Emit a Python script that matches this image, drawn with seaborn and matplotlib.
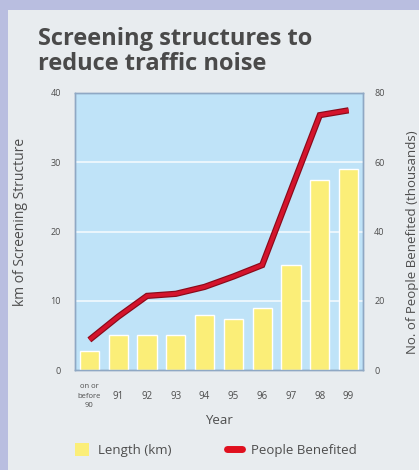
import seaborn as sns
import pandas as pd
import numpy as np
import matplotlib.pyplot as plt
from matplotlib.patches import Rectangle
from matplotlib.lines import Line2D

years = ['on or\nbefore\n90', '91', '92', '93', '94', '95', '96', '97', '98', '99']
length_km = [2.7, 5.0, 5.0, 5.0, 7.9, 7.3, 8.9, 15.1, 27.4, 29.0]
people_k = [8.7, 15.4, 21.4, 22.0, 24.0, 27.0, 30.3, 52.0, 73.6, 75.0]

df = pd.DataFrame({'year': years, 'length': length_km, 'people': people_k})

sns.set_style('white')
plt.rcParams['font.family'] = ['Open Sans', 'DejaVu Sans']
txt = '#4d4d4d'

fig = plt.figure(figsize=(4.19, 4.70), dpi=100)
fig.patch.set_facecolor('#b9bee0')
# light inner panel
fig.patches.append(Rectangle((8 / 419, 0), 1, 1 - 10 / 470, transform=fig.transFigure,
                             facecolor='#e8ecef', edgecolor='none', zorder=-10))

ax = fig.add_axes([75 / 419, 1 - 370 / 470, 288 / 419, 277 / 470])
ax.set_facecolor('#bfe3f8')

#bars for length
sns.barplot(x='year', y='length', data=df, ax=ax, color='#fbee78', width=0.66,
            saturation=1, zorder=3)
ax.set_ylim(0, 40)
ax.set_yticks([0, 10, 20, 30, 40])
for v in [10, 20, 30]:
    ax.axhline(v, color='white', lw=1.2, alpha=0.8, zorder=1)

#line for people on the right axis
ax2 = ax.twinx()
sns.lineplot(x=np.arange(len(years)), y=df['people'], ax=ax2, color='#8a0a1a', lw=4.5,
             solid_joinstyle='miter', solid_capstyle='butt')
sns.lineplot(x=np.arange(len(years)), y=df['people'], ax=ax2, color='#d4142c', lw=2.8,
             solid_joinstyle='miter', solid_capstyle='butt')
ax2.set_ylim(0, 80)
ax2.set_yticks([0, 20, 40, 60, 80])
ax2.set_xlim(-0.5, len(years) - 0.5)
ax.set_xlim(-0.5, len(years) - 0.5)

for a in (ax, ax2):
    for s in a.spines.values():
        s.set_color('#8fa8c4')
        s.set_linewidth(1)

ax.tick_params(axis='y', length=0, labelsize=6.5, colors=txt, pad=10)
ax2.tick_params(axis='y', length=0, labelsize=6.5, colors=txt, pad=8)
ax.set_xticks(np.arange(len(years)))
ax.set_xticklabels(years)
ax.tick_params(axis='x', length=0, labelsize=7, colors=txt, pad=19)
ax.set_xticks(np.arange(len(years)) + 0.5, minor=True)
ax.tick_params(axis='x', which='minor', length=3, color='#8fa8c4')
for lab in ax.get_xticklabels():
    lab.set_verticalalignment('center')
ax.get_xticklabels()[0].set_fontsize(5.5)
ax.get_xticklabels()[0].set_linespacing(1.5)

ax.set_xlabel('Year', fontsize=9.5, color=txt)
ax.xaxis.set_label_coords(0.5, -0.158)
ax.set_ylabel('km of Screening Structure', fontsize=10, color=txt)
ax2.set_ylabel('No. of People Benefited (thousands)', fontsize=9.5, color=txt)
ax.yaxis.set_label_coords(-0.163, 0.534)
ax2.yaxis.set_label_coords(1.148, 0.46)

fig.text(38 / 419, 1 - 27 / 470, 'Screening structures to\nreduce traffic noise',
         fontsize=17, fontweight='bold', color='#4a4a4a', va='top', ha='left',
         linespacing=1.08)

#legend
handles = [Rectangle((0, 0), 1, 1, facecolor='#fbee78', edgecolor='none'),
           Line2D([0], [0], color='#e0101e', lw=5, solid_capstyle='round')]
fig.legend(handles, ['Length (km)', 'People Benefited'], loc='center',
           bbox_to_anchor=(0.515, 1 - 450 / 470), ncol=2, frameon=False, fontsize=9.5,
           labelcolor=txt, handlelength=1.1, handleheight=1.1, handletextpad=0.7,
           columnspacing=4.2)

fig.savefig('out.png', dpi=100, facecolor=fig.get_facecolor())
